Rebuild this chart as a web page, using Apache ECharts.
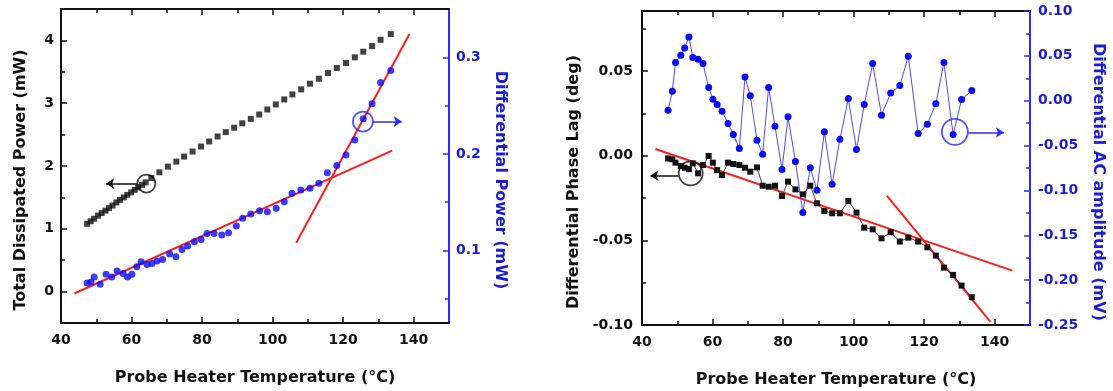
<!DOCTYPE html>
<html><head><meta charset="utf-8">
<script src="https://cdn.jsdelivr.net/npm/echarts@6/dist/echarts.min.js"></script>
<style>html,body{margin:0;padding:0;background:#fff}#c{width:1113px;height:391px}</style>
</head><body><div id="c"></div>
<script>
// ---------------- Left panel data ----------------
const leftSqT = [47.4,48.4,49.4,50.5,51.5,52.6,53.6,54.6,55.7,56.7,57.8,58.8,59.9,60.9,61.9,63.0,64.0,65.6,67.9,70.3,72.7,74.9,77.3,79.7,82.0,84.4,86.7,89.1,91.4,93.8,96.2,98.5,100.9,103.3,105.6,108.1,110.6,113.1,115.7,118.2,120.8,123.3,125.7,128.2,130.6,133.5];
const leftPower = [1.08,1.12,1.16,1.21,1.25,1.29,1.33,1.37,1.42,1.46,1.50,1.54,1.58,1.62,1.66,1.70,1.74,1.81,1.90,1.99,2.07,2.15,2.23,2.31,2.39,2.47,2.54,2.61,2.68,2.75,2.82,2.90,2.98,3.06,3.14,3.22,3.31,3.39,3.48,3.56,3.64,3.73,3.82,3.91,4.01,4.10];
const leftDotT = [47.4,48.5,49.4,51.1,52.8,54.4,55.9,57.6,58.9,60.1,61.5,62.7,64.4,65.8,67.2,68.8,70.8,72.6,74.3,75.9,77.8,79.7,81.4,83.4,85.6,87.5,89.7,91.5,93.8,96.3,98.5,101.0,103.3,105.5,108.0,110.6,113.1,115.5,118.2,120.8,123.3,125.7,128.2,130.6,133.5];
const leftDiffPower = [0.0665,0.0675,0.0727,0.0651,0.0755,0.0727,0.0789,0.0762,0.0727,0.0755,0.0831,0.0883,0.0856,0.0866,0.0893,0.0908,0.0963,0.0935,0.1011,0.1046,0.1090,0.1115,0.1177,0.1177,0.1160,0.1184,0.1253,0.1333,0.1378,0.1412,0.1402,0.1437,0.1505,0.1592,0.1627,0.1644,0.1696,0.1806,0.1879,0.1990,0.2145,0.2363,0.2519,0.2740,0.2864];
const leftFitLow = [[43.8,0.0555],[133.9,0.2034]];
const leftFitHigh = [[106.7,0.108],[138.8,0.3242]];
// annotations (data coords)
const leftBlackCircle = [64.2,1.72];
const leftBlackArrow = [[61.6,1.72],[52.8,1.72]];
const leftBlueCircle = [125.6,0.2335];
const leftBlueArrow = [[128.4,0.2335],[136.6,0.2335]];

// ---------------- Right panel data ----------------
const rightT = [47.4,48.6,49.5,51.0,52.1,53.3,54.4,55.9,57.3,58.9,60.1,61.3,62.7,64.4,65.9,67.6,69.2,70.7,72.6,74.2,75.9,77.7,79.7,81.4,83.5,85.6,87.7,89.6,91.7,93.9,96.1,98.5,100.8,103.0,105.4,107.9,110.5,113.1,115.5,118.3,120.9,123.3,125.6,128.2,130.6,133.5];
const rightPhase = [-0.0016,-0.0021,-0.0041,-0.0061,-0.0071,-0.0079,-0.0045,-0.0104,-0.0055,-0.0002,-0.0041,-0.0085,-0.0114,-0.0041,-0.0049,-0.0055,-0.0071,-0.0094,-0.0069,-0.0177,-0.0183,-0.0177,-0.0238,-0.0153,-0.0199,-0.0228,-0.0177,-0.0281,-0.0326,-0.0340,-0.0340,-0.0267,-0.0336,-0.0425,-0.0435,-0.0488,-0.0452,-0.0507,-0.0484,-0.0507,-0.0541,-0.0590,-0.0661,-0.0704,-0.0767,-0.0836];
const rightAmp = [-0.0106,0.0106,0.0425,0.0507,0.0588,0.0711,0.0481,0.0462,0.0414,0.0147,0.0017,-0.0043,-0.0117,-0.0254,-0.0377,-0.0533,0.0265,0.0054,-0.0440,-0.0596,0.0147,-0.0284,-0.0766,-0.0180,-0.0677,-0.1245,-0.0748,-0.0997,-0.0347,-0.0930,-0.0429,0.0024,-0.0544,-0.0043,0.0414,-0.0161,0.0087,0.0169,0.0496,-0.0366,-0.0262,-0.0035,0.0425,-0.0377,0.0013,0.0113];
const rightFitLow = [[43.8,0.0040],[145.0,-0.0679]];
const rightFitHigh = [[109.4,-0.0236],[138.8,-0.0982]];
const rightBlackCircle = [53.8,-0.0104];
const rightBlackArrow = [[50.2,-0.0118],[42.4,-0.0118]];
const rightBlueCircle = [128.7,-0.0347];
const rightBlueArrow = [[132.5,-0.0354],[142.6,-0.0354]];

// ---------------- Ticks ----------------
const xMajor = [40,60,80,100,120,140];
const xMinor = [50,70,90,110,130];
const lyMajor = [0,1,2,3,4];
const lyMinor = [0.5,1.5,2.5,3.5];
const lrMajor = [0.1,0.2,0.3];
const lrMinor = [0.05,0.15,0.25];
const ryMajor = [-0.1,-0.05,0,0.05];
const ryMinor = [-0.075,-0.025,0.025,0.075];
const rrMajor = [-0.25,-0.2,-0.15,-0.1,-0.05,0,0.05,0.1];
const rrMinor = [-0.225,-0.175,-0.125,-0.075,-0.025,0.025,0.075];

const xTitle = 'Probe Heater Temperature (°C)';
const FONT = '"DejaVu Sans", sans-serif';
const BLK = '#111111';
const BLUE_AX = '#2a2aff';
const BLUE_TXT = '#1c1cd2';
const BLUE_DOT = '#0b0bf2';
const RED = '#ff1c1c';

function baseAxis(o){
  return Object.assign({type:'value', splitLine:{show:false}, axisLine:{show:false,onZero:false}, axisLabel:{show:false}, axisTick:{show:false}}, o);
}
function tickAxis(gridIndex, position, min, max, vals, len, color, lineOn){
  return baseAxis({gridIndex, position, min, max,
    axisLine:{show:!!lineOn, onZero:false, lineStyle:{color, width:2}},
    axisTick:{show:true, inside:true, length:len, customValues:vals, lineStyle:{color, width:1.5}}});
}
const labelStyle = (color, margin, fmt, vals) => ({show:true, customValues:vals, margin, color, fontFamily:FONT, fontWeight:'bold', fontSize:14, formatter:fmt});
const nameStyle = (color, padding) => ({color, fontFamily:FONT, fontWeight:'bold', fontSize:16, padding});

const xAxis = [];
const yAxis = [];
[0,1].forEach(g => {
  const main = tickAxis(g,'bottom',40,150,xMajor,6,BLK,true);
  main.axisLabel = labelStyle(BLK, 10, v => String(v), xMajor);
  main.name = xTitle; main.nameLocation='middle'; main.nameGap=47;
  main.nameTextStyle = nameStyle(BLK);
  xAxis.push(main);                                         // 0 / 4
  xAxis.push(tickAxis(g,'bottom',40,150,xMinor,4,BLK,false)); // 1 / 5
  xAxis.push(tickAxis(g,'top',40,150,xMajor,6,BLK,true));    // 2 / 6
  xAxis.push(tickAxis(g,'top',40,150,xMinor,4,BLK,false));   // 3 / 7
});
// left panel y axes
let a = tickAxis(0,'left',-0.5,4.5,lyMajor,6,BLK,true);
a.axisLabel = labelStyle(BLK,7,v=>String(Math.round(v)),lyMajor);
a.name='Total Dissipated Power (mW)'; a.nameLocation='middle'; a.nameGap=32; a.nameTextStyle=nameStyle(BLK,[0,28,0,0]);
yAxis.push(a);                                                   // 0
yAxis.push(tickAxis(0,'left',-0.5,4.5,lyMinor,4,BLK,false));     // 1
a = tickAxis(0,'right',0.025,0.35,lrMajor,6,BLUE_AX,true);
a.axisLabel = labelStyle(BLUE_TXT,7,v=>v.toFixed(1),lrMajor);
a.name='Differential Power (mW)'; a.nameLocation='middle'; a.nameGap=43; a.nameRotate=-90; a.nameTextStyle=nameStyle(BLUE_TXT,[0,0,0,28]);
yAxis.push(a);                                                   // 2
yAxis.push(tickAxis(0,'right',0.025,0.35,lrMinor,4,BLUE_AX,false)); // 3
// right panel y axes
a = tickAxis(1,'left',-0.1,0.0855,ryMajor,6,BLK,true);
a.axisLabel = labelStyle(BLK,9,v=>v.toFixed(2),ryMajor);
a.name='Differential Phase Lag (deg)'; a.nameLocation='middle'; a.nameGap=60; a.nameTextStyle=nameStyle(BLK,[0,28,0,0]);
yAxis.push(a);                                                   // 4
yAxis.push(tickAxis(1,'left',-0.1,0.0855,ryMinor,4,BLK,false));  // 5
a = tickAxis(1,'right',-0.25,0.1,rrMajor,6,BLUE_AX,true);
a.axisLabel = labelStyle(BLUE_TXT,8,v=>v.toFixed(2),rrMajor);
a.name='Differential AC amplitude (mV)'; a.nameLocation='middle'; a.nameGap=60; a.nameRotate=-90; a.nameTextStyle=nameStyle(BLUE_TXT,[0,0,0,28]);
yAxis.push(a);                                                   // 6
yAxis.push(tickAxis(1,'right',-0.25,0.1,rrMinor,4,BLUE_AX,false)); // 7

const zip = (xs, ys) => xs.map((x,i)=>[x, ys[i]]);
function fit(xi, yi, d){ return {type:'line', xAxisIndex:xi, yAxisIndex:yi, data:d, showSymbol:false, symbol:'none', lineStyle:{color:RED, width:2}, z:3, silent:true}; }
function ring(xi, yi, p, size, color){ return {type:'scatter', xAxisIndex:xi, yAxisIndex:yi, data:[p], symbol:'circle', symbolSize:size, itemStyle:{color:'rgba(0,0,0,0)', borderColor:color, borderWidth:1.8}, z:6, silent:true}; }
function arrow(xi, yi, c, color){ return {type:'lines', coordinateSystem:'cartesian2d', xAxisIndex:xi, yAxisIndex:yi, data:[{coords:c}], symbol:['none','arrow'], symbolSize:8, lineStyle:{color, width:1.6, opacity:1}, z:6, silent:true}; }

const series = [
  {type:'scatter', xAxisIndex:0, yAxisIndex:0, data:zip(leftSqT,leftPower), symbol:'rect', symbolSize:6, itemStyle:{color:BLK}, z:4},
  {type:'scatter', xAxisIndex:0, yAxisIndex:2, data:zip(leftDotT,leftDiffPower), symbol:'circle', symbolSize:7, itemStyle:{color:BLUE_DOT}, z:4},
  fit(0,2,leftFitLow), fit(0,2,leftFitHigh),
  ring(0,0,leftBlackCircle,18,BLK), arrow(0,0,leftBlackArrow,BLK),
  ring(0,2,leftBlueCircle,20,BLUE_AX), arrow(0,2,leftBlueArrow,BLUE_AX),

  {type:'line', xAxisIndex:4, yAxisIndex:4, data:zip(rightT,rightPhase), symbol:'rect', symbolSize:6, showAllSymbol:true, itemStyle:{color:BLK}, lineStyle:{color:'#444', width:1}, z:4},
  {type:'line', xAxisIndex:4, yAxisIndex:6, data:zip(rightT,rightAmp), symbol:'circle', symbolSize:7, showAllSymbol:true, itemStyle:{color:BLUE_DOT}, lineStyle:{color:'#4a4aff', width:1}, z:4},
  fit(4,4,rightFitLow), fit(4,4,rightFitHigh),
  ring(4,4,rightBlackCircle,24,BLK), arrow(4,4,rightBlackArrow,BLK),
  ring(4,6,rightBlueCircle,26,BLUE_AX), arrow(4,6,rightBlueArrow,BLUE_AX)
];

const chart = echarts.init(document.getElementById('c'), null, {renderer:'canvas'});
chart.setOption({
  animation:false,
  backgroundColor:'#ffffff',
  grid:[
    {left:61, top:9, width:388, height:314, outerBoundsMode:'none', containLabel:false},
    {left:642, top:11, width:388, height:314, outerBoundsMode:'none', containLabel:false}
  ],
  xAxis, yAxis, series
});
</script></body></html>
